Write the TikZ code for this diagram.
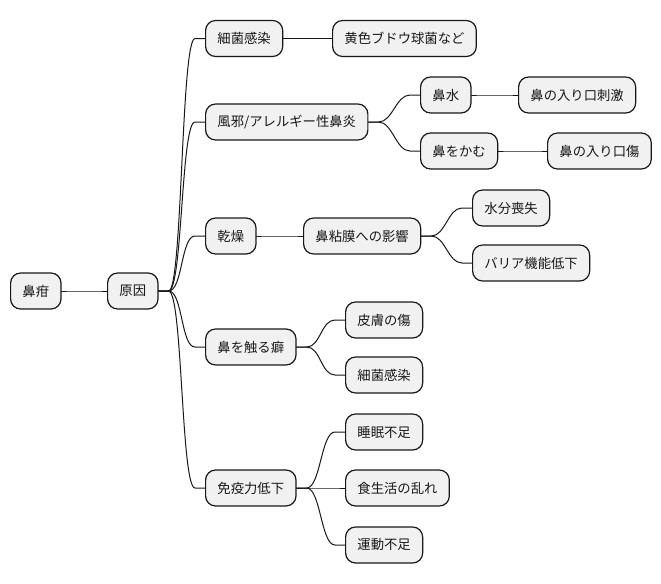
\documentclass[tikz,border=0pt]{standalone}
\usepackage{fontspec}
\setmainfont{Noto Sans CJK JP}
\definecolor{mmink}{HTML}{181818}
\definecolor{mmfill}{HTML}{F1F1F1}

\begin{document}
\begin{tikzpicture}[x=0.75pt, y=-0.75pt, line cap=round, line join=round,
  topic/.style={draw=mmink, fill=mmfill, line width=0.9pt, rounded corners=7.5pt,
    anchor=west, minimum height=27pt, inner xsep=8.9pt, inner ysep=0pt,
    font=\fontsize{10}{12}\selectfont, text=mmink},
  link/.style={draw=mmink, line width=0.75pt}]
  % 画布 661 x 583 像素
  \useasboundingbox (0,0) rectangle (661,583);

  % 根与第一层
  \node[topic] (root)  at (10,291)  {鼻疳};
  \node[topic] (cause) at (107,291) {原因};

  % 五个分支
  \node[topic] (bact)  at (205,38.5) {細菌感染};
  \node[topic] (cold)  at (205,122)  {風邪/アレルギー性鼻炎};
  \node[topic] (dry)   at (205,236)  {乾燥};
  \node[topic] (touch) at (205,347)  {鼻を触る癖};
  \node[topic] (immun) at (205,488)  {免疫力低下};

  % 细菌感染
  \node[topic] (staph) at (332,38.5) {黄色ブドウ球菌など};
  % 感冒 / 过敏
  \node[topic] (runny) at (420,95)   {鼻水};
  \node[topic] (irrit) at (518,95)   {鼻の入り口刺激};
  \node[topic] (blow)  at (420,151)  {鼻をかむ};
  \node[topic] (wound) at (547,151)  {鼻の入り口傷};
  % 干燥
  \node[topic] (mucos) at (303,236)  {鼻粘膜への影響};
  \node[topic] (water) at (472,208)  {水分喪失};
  \node[topic] (barr)  at (472,263)  {バリア機能低下};
  % 摸鼻子的习惯
  \node[topic] (skin)  at (345,320)  {皮膚の傷};
  \node[topic] (bact2) at (345,375)  {細菌感染};
  % 免疫力下降
  \node[topic] (sleep) at (345,432)  {睡眠不足};
  \node[topic] (diet)  at (345,488)  {食生活の乱れ};
  \node[topic] (exer)  at (345,545)  {運動不足};

  % 连线：两端各一小段水平线，中间用曲线
  \foreach \p/\c in {root/cause, cause/bact, cause/cold, cause/dry, cause/touch, cause/immun,
      bact/staph, cold/runny, cold/blow, runny/irrit, blow/wound,
      dry/mucos, mucos/water, mucos/barr, touch/skin, touch/bact2,
      immun/sleep, immun/diet, immun/exer}
    \draw[link] (\p.east) -- ++(10,0) .. controls +(14,0) and +(-14,0)
      .. ([xshift=-7.5pt]\c.west) -- (\c.west);
\end{tikzpicture}
\end{document}
